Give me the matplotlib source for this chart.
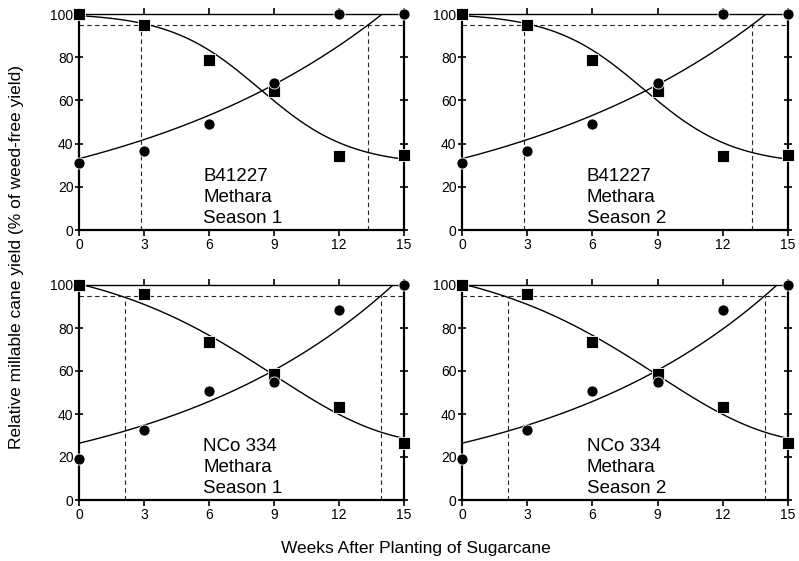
import matplotlib.pyplot as plt
import numpy as np

plt.rcParams['font.family'] = ['Liberation Sans', 'DejaVu Sans']

# observed relative yield (% of weed-free yield)
weeks = [0, 3, 6, 9, 12, 15]
b41227_weedy = [100, 94.9, 78.8, 64.5, 34.4, 34.9]   # squares
b41227_free = [31.2, 36.6, 48.9, 68.2, 100, 100]     # circles
nco334_weedy = [100, 95.8, 73.5, 58.7, 43.4, 26.5]
nco334_free = [19.2, 32.5, 50.8, 55.1, 88.4, 100]

# fitted curve parameters
b41227_logistic = dict(top=100.5, bottom=30.0, x0=8.35, k=0.48)
b41227_expo = dict(a=33.0, b=0.0792)
nco334_gompertz = dict(top=114.0, bottom=25.5, x0=9.0, k=0.2)
nco334_expo = dict(a=26.4, b=0.0919)

# critical period limits (95 % yield)
b41227_cpwc = [2.85, 13.35]
nco334_cpwc = [2.1, 13.95]
acceptable_yield = 95

panels = [
    ('B41227\nMethara\nSeason 1', 'b41227'),
    ('B41227\nMethara\nSeason 2', 'b41227'),
    ('NCo 334\nMethara\nSeason 1', 'nco334'),
    ('NCo 334\nMethara\nSeason 2', 'nco334'),
]


def logistic(x, top, bottom, x0, k):
    return bottom + (top - bottom) / (1 + np.exp(k * (x - x0)))


def gompertz(x, top, bottom, x0, k):
    return bottom + (top - bottom) * np.exp(-np.exp(k * (x - x0)))


def expo(x, a, b):
    return a * np.exp(b * x)


fig = plt.figure(figsize=(7.99, 5.61), dpi=100)
W, H = 799, 561
boxes = [(79, 14, 325, 216), (462, 14, 326, 216),
         (79, 285, 325, 215), (462, 285, 326, 215)]

xx = np.linspace(0, 15, 300)
for (label, cv), (px, py, pw, ph) in zip(panels, boxes):
    ax = fig.add_axes([px / W, (H - py - ph) / H, pw / W, ph / H])
    if cv == 'b41227':
        weedy, free, cp = b41227_weedy, b41227_free, b41227_cpwc
        y_down = logistic(xx, **b41227_logistic)
        y_up = expo(xx, **b41227_expo)
    else:
        weedy, free, cp = nco334_weedy, nco334_free, nco334_cpwc
        y_down = gompertz(xx, **nco334_gompertz)
        y_up = expo(xx, **nco334_expo)

    dash = dict(color='#222222', lw=0.8, ls=(0, (4, 3)), zorder=1)
    ax.plot([0, 15], [acceptable_yield, acceptable_yield], **dash)
    for c in cp:
        ax.plot([c, c], [0, acceptable_yield], **dash)

    ax.plot(xx, y_down, color='black', lw=1.0, zorder=2)
    ax.plot(xx, y_up, color='black', lw=1.0, zorder=2)

    ax.plot(weeks, weedy, ls='none', marker='s', ms=9, color='black',
            mec='white', mew=0.6, clip_on=False, zorder=5)
    ax.plot(weeks, free, ls='none', marker='o', ms=8, color='black',
            mec='white', mew=0.6, clip_on=False, zorder=6)

    ax.text(5.74, 3.2, label, fontsize=13.5, ha='left', va='baseline',
            linespacing=1.3)

    ax.set_xlim(0, 15)
    ax.set_ylim(0, 100)
    ax.set_xticks([0, 3, 6, 9, 12, 15])
    ax.set_yticks([0, 20, 40, 60, 80, 100])
    ax.tick_params(axis='x', direction='out', length=4, width=1.2,
                   labelsize=10, pad=2, top=True)
    ax.tick_params(axis='y', direction='inout', length=6, width=1.2,
                   labelsize=10, pad=1, right=True)
    for side in ['left', 'bottom', 'right']:
        ax.spines[side].set_linewidth(1.6)
    ax.spines['top'].set_linewidth(1.0)

fig.text(0.021, 0.542, 'Relative millable cane yield (% of weed-free yield)',
         rotation=90, ha='center', va='center', fontsize=12.5)
fig.text(0.52, 0.022, 'Weeks After Planting of Sugarcane',
         ha='center', va='center', fontsize=12.5)

fig.savefig('out.png', dpi=100)
